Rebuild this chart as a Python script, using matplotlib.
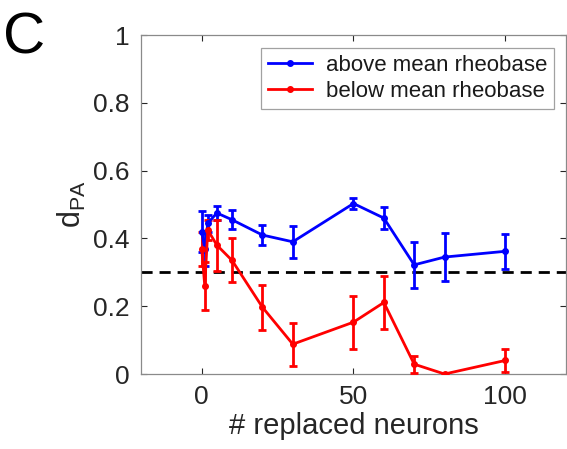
import matplotlib
matplotlib.use("Agg")
import matplotlib.pyplot as plt
from matplotlib.lines import Line2D

plt.rcParams['font.family'] = ['Liberation Sans', 'DejaVu Sans']

x_vals = [0, 1, 2, 5, 10, 20, 30, 50, 60, 70, 80, 100]
above_mean = [0.42, 0.37, 0.445, 0.475, 0.455, 0.41, 0.39, 0.503, 0.46, 0.322, 0.345, 0.362]
above_err = [0.06, 0.05, 0.025, 0.02, 0.028, 0.03, 0.047, 0.015, 0.032, 0.067, 0.07, 0.052]
below_mean = [0.37, 0.26, 0.425, 0.38, 0.335, 0.197, 0.088, 0.153, 0.211, 0.029, 0.0, 0.040]
below_err = [0.05, 0.07, 0.03, 0.075, 0.065, 0.067, 0.063, 0.078, 0.078, 0.025, 0.0, 0.035]
threshold = 0.3
labels = ['above mean rheobase', 'below mean rheobase']

xticks = [0, 50, 100]
yticks = [0, 0.2, 0.4, 0.6, 0.8, 1]
yticklabels = ['0', '0.2', '0.4', '0.6', '0.8', '1']

fig = plt.figure(figsize=(5.67, 4.49), dpi=100)
ax = fig.add_axes([0.2487, 0.167, 0.7495, 0.755])

gray = '#262626'
blue = (0, 0, 1)
red = (1, 0, 0)
ax.axhline(threshold, color='black', linestyle=(0, (4, 2.5)), linewidth=2, zorder=1)

ax.errorbar(x_vals, above_mean, yerr=above_err, color=blue, marker='o', markersize=4,
            linewidth=2, capsize=3, capthick=2, elinewidth=2, zorder=3)
ax.errorbar(x_vals, below_mean, yerr=below_err, color=red, marker='o', markersize=4,
            linewidth=2, capsize=3, capthick=2, elinewidth=2, zorder=3)

ax.set_xlim(-20, 120)
ax.set_ylim(0, 1)
ax.set_xticks(xticks)
ax.set_yticks(yticks)
ax.set_yticklabels(yticklabels)
ax.tick_params(direction='in', length=4, width=0.8, colors=gray, labelsize=19,
               top=True, right=True, pad=8)
for s in ax.spines.values():
    s.set_color('#8a8a8a')
    s.set_linewidth(0.9)

ax.set_xlabel('# replaced neurons', fontsize=21, color=gray, labelpad=2)
ax.set_ylabel(r'$\mathregular{d_{PA}}$', fontsize=22, color=gray, labelpad=4)

handles = [Line2D([], [], color=blue, marker='o', markersize=4, linewidth=2),
           Line2D([], [], color=red, marker='o', markersize=4, linewidth=2)]
leg = ax.legend(handles, labels, loc='upper right', fontsize=16, frameon=True, fancybox=False,
                edgecolor='#8a8a8a', handlelength=2.0, borderpad=0.3, labelspacing=0.25,
                handletextpad=0.6, borderaxespad=0, bbox_to_anchor=(0.971, 0.962))
for t in leg.get_texts():
    t.set_color('#1a1a1a')
leg.get_frame().set_linewidth(0.9)

fig.text(0.005, 0.975, 'C', fontsize=42, va='top', ha='left', color='black')

fig.savefig('out.png', dpi=100)
